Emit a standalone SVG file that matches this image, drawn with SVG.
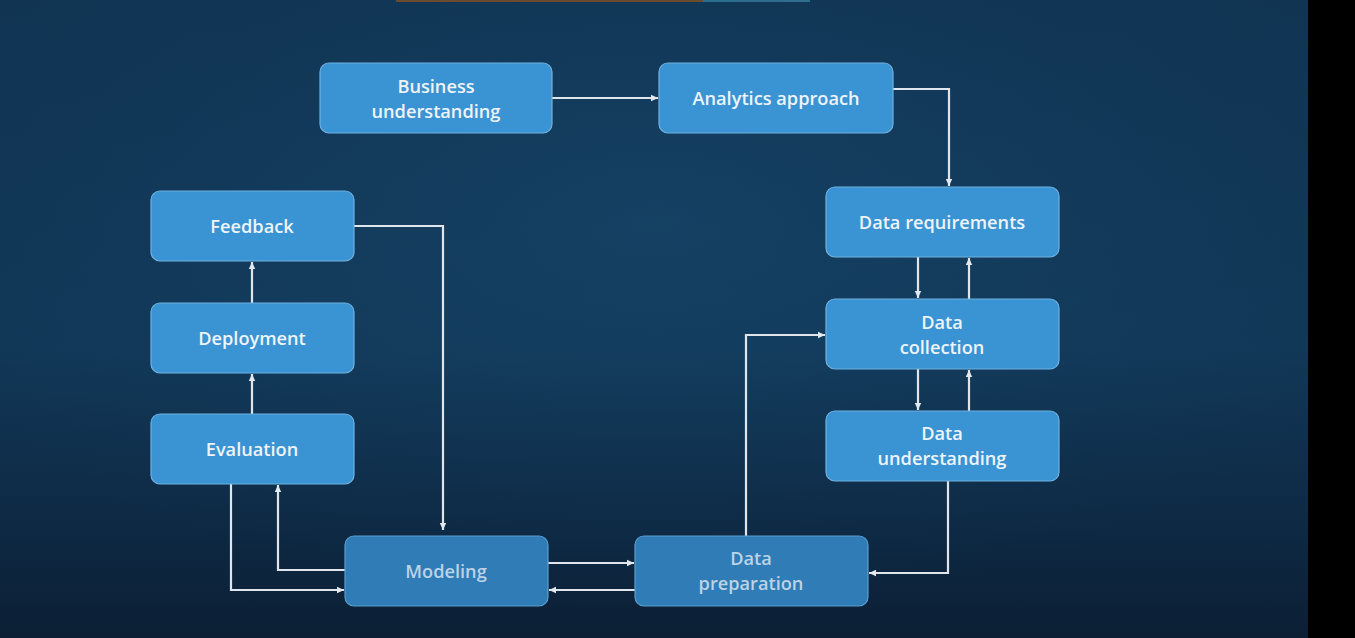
<svg xmlns="http://www.w3.org/2000/svg" width="1355" height="638" viewBox="0 0 1355 638">
<defs>
<linearGradient id="bg" x1="0" y1="0" x2="0" y2="1">
<stop offset="0" stop-color="#123a5b"/>
<stop offset="0.55" stop-color="#133e60"/>
<stop offset="0.8" stop-color="#0f2e4b"/>
<stop offset="1" stop-color="#0c2036"/>
</linearGradient>
<radialGradient id="glow" cx="0.5" cy="0.35" r="0.6">
<stop offset="0" stop-color="#1a4a70" stop-opacity="0.3"/>
<stop offset="1" stop-color="#0a1c30" stop-opacity="0.2"/>
</radialGradient>
<marker id="ah" markerWidth="8" markerHeight="8" refX="7" refY="4" orient="auto" markerUnits="userSpaceOnUse">
<path d="M0,0.8 L7,4 L0,7.2 Z" fill="#e3e9ee"/>
</marker>
<style>
.n rect{fill:#3a93d2;stroke:#6fb2e2;stroke-width:1.2}
.d rect{fill:#2f7cb6;stroke:#5a9dcf;stroke-width:1.2}
.n text,.d text{font-family:"Open Sans","Noto Sans",sans-serif;font-weight:600;font-size:18.2px;text-anchor:middle;dominant-baseline:central}
.n text{fill:#eef4f9}
.d text{fill:#bcd3e6}
.c path{fill:none;stroke:#dfe5ea;stroke-width:2.2;marker-end:url(#ah)}
</style>
</defs>
<rect width="1355" height="638" fill="url(#bg)"/>
<rect width="1308" height="638" fill="url(#glow)"/>
<rect x="1308" y="0" width="47" height="638" fill="#000"/>
<rect x="396" y="0" width="307" height="2" fill="#6a4b2c"/>
<rect x="703" y="0" width="107" height="2" fill="#2b6f8c"/>

<g class="c" id="connectors">
<path d="M552,98 H658"/>
<path d="M893,89 H949 V186"/>
<path d="M918,257 V298"/>
<path d="M969,299 V258"/>
<path d="M918,369 V410"/>
<path d="M969,411 V370"/>
<path d="M948,481 V573 H869"/>
<path d="M746,536 V335 H825"/>
<path d="M548,563 H634"/>
<path d="M635,590 H549"/>
<path d="M354,226 H443 V530"/>
<path d="M345,570 H278 V485"/>
<path d="M231,484 V590 H344"/>
<path d="M252,414 V374"/>
<path d="M252,303 V262"/>
</g>

<g class="n" id="business-understanding"><rect x="320" y="63" width="232" height="70" rx="9"/><text x="436" y="86">Business</text><text x="436" y="111">understanding</text></g>
<g class="n" id="analytics-approach"><rect x="659" y="63" width="234" height="70" rx="9"/><text x="776" y="98">Analytics approach</text></g>
<g class="n" id="data-requirements"><rect x="826" y="187" width="233" height="70" rx="9"/><text x="942" y="222">Data requirements</text></g>
<g class="n" id="data-collection"><rect x="826" y="299" width="233" height="70" rx="9"/><text x="942" y="322">Data</text><text x="942" y="347">collection</text></g>
<g class="n" id="data-understanding"><rect x="826" y="411" width="233" height="70" rx="9"/><text x="942" y="433">Data</text><text x="942" y="458">understanding</text></g>
<g class="n" id="feedback"><rect x="151" y="191" width="203" height="70" rx="9"/><text x="252" y="226">Feedback</text></g>
<g class="n" id="deployment"><rect x="151" y="303" width="203" height="70" rx="9"/><text x="252" y="338">Deployment</text></g>
<g class="n" id="evaluation"><rect x="151" y="414" width="203" height="70" rx="9"/><text x="252" y="449">Evaluation</text></g>
<g class="d" id="modeling"><rect x="345" y="536" width="203" height="70" rx="9"/><text x="446" y="571">Modeling</text></g>
<g class="d" id="data-preparation"><rect x="635" y="536" width="233" height="70" rx="9"/><text x="751" y="558">Data</text><text x="751" y="583">preparation</text></g>
</svg>
